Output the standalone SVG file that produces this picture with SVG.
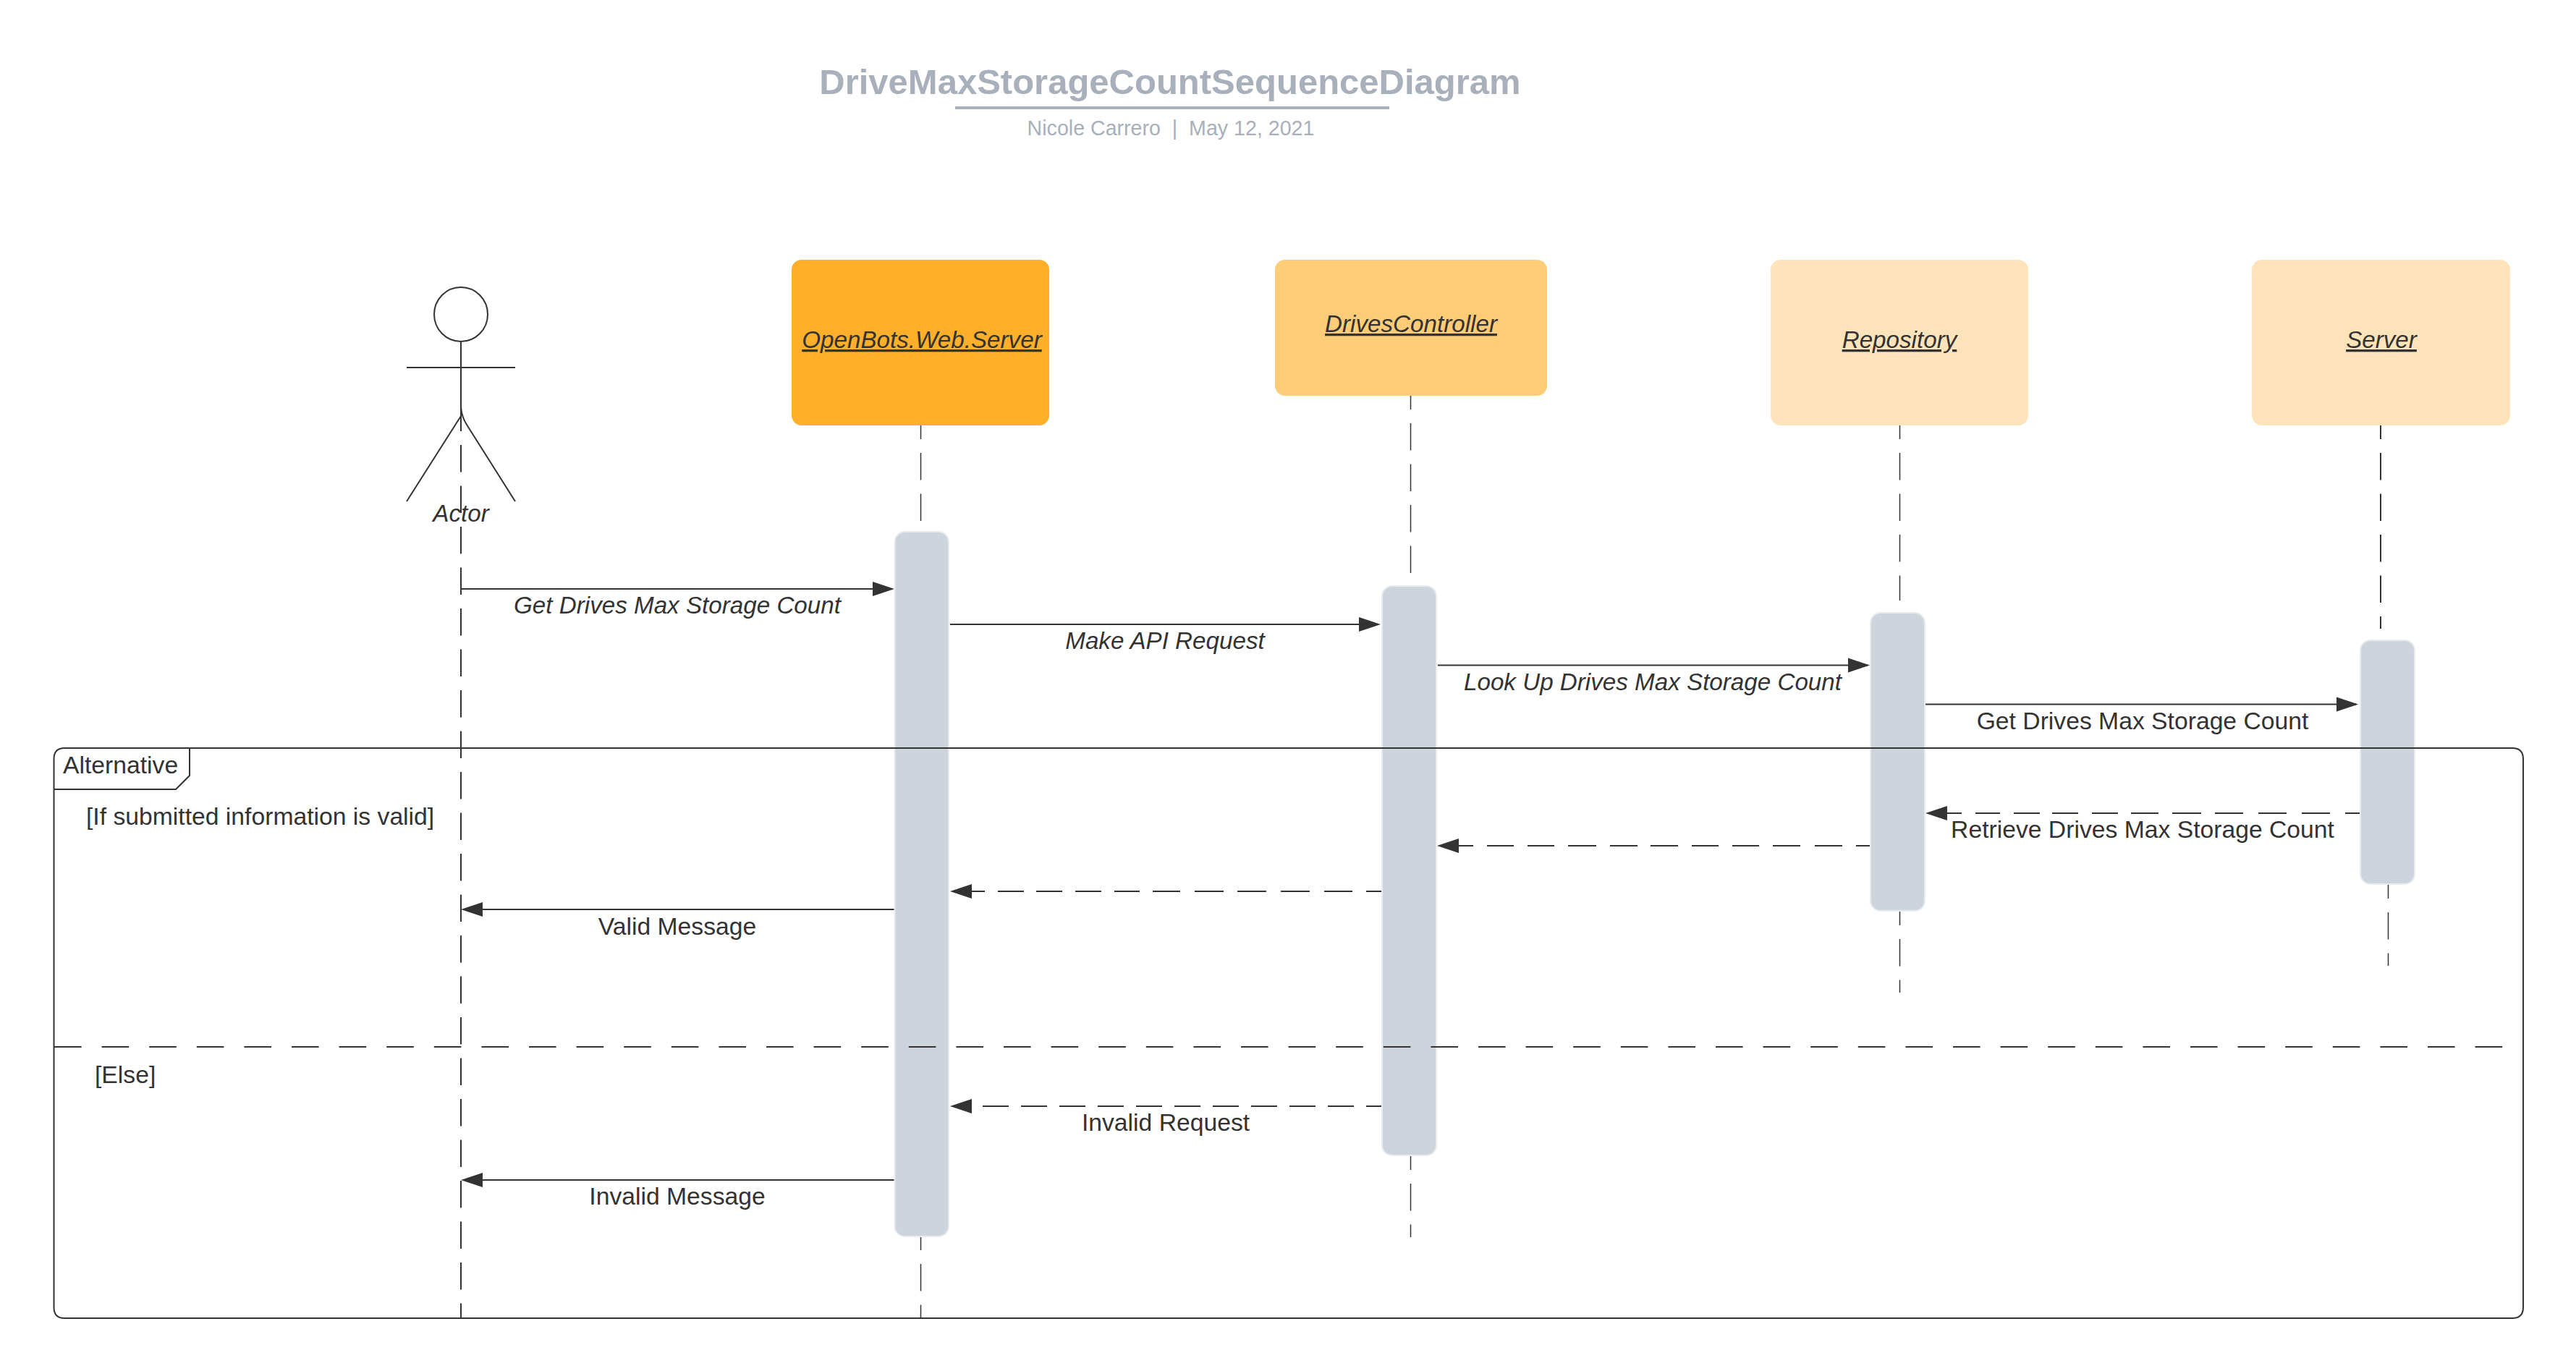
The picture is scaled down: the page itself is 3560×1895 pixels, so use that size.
<svg xmlns="http://www.w3.org/2000/svg" width="3560" height="1895" viewBox="0 0 3560 1895">
<style>
text{font-family:"Liberation Sans",Arial,sans-serif;font-size:33.700px;fill:#333}
.m{text-anchor:middle}
.i{font-style:italic;font-size:33.200px}
.u{text-decoration:underline}
.life{stroke:#333;stroke-width:1.500;fill:none;stroke-dasharray:37.500 19;stroke-dashoffset:18.500}
.thick{stroke-width:2;stroke-dashoffset:0}
.msg{stroke:#333;stroke-width:2;fill:none;marker-end:url(#head)}
.act{fill:#ced4db;stroke:#e8ebef;stroke-width:2}
.fig{stroke:#333;stroke-width:2;fill:none}
.box{stroke:none}
</style>
<defs>
<marker id="head" markerUnits="userSpaceOnUse" markerWidth="31" markerHeight="22" refX="27" refY="11" orient="auto"><path d="M0 1L30 11L0 21Z" fill="#333"/></marker>
</defs>
<rect width="3560" height="1895" fill="#fff"/>
<g id="title">
<text class="m" x="1617" y="130" style="font-size:49px;font-weight:bold;fill:#a8b0bb">DriveMaxStorageCountSequenceDiagram</text>
<rect x="1320" y="147" width="600" height="4" fill="#a8b0bb"/>
<text class="m" x="1618" y="187" style="font-size:28.600px;fill:#a8b0bb;white-space:pre">Nicole Carrero  |  May 12, 2021</text>
</g>
<g id="connectors">
<path class="life thick" d="M637 558.500V1822"/>
<path class="life" d="M1272.500 588V720"/>
<path class="life" d="M1272.500 1709V1822"/>
<path class="life" d="M1949.500 547V810"/>
<path class="life" d="M1949.500 1598V1710"/>
<path class="life" d="M2625.500 588V830"/>
<path class="life" d="M2625.500 1260V1372"/>
<path class="life thick" style="stroke-dashoffset:18.500" d="M3290 588V869"/>
<path class="life" d="M3300.500 1223V1335"/>
<path class="msg" d="M637 814H1233"/>
<path class="msg" d="M1313 863H1905"/>
<path class="msg" d="M1987 919.500H2581"/>
<path class="msg" d="M2660 973.500H3256"/>
<path class="msg" stroke-dasharray="20 21 39 21 39 21 39 19 40 19 38 18 36 19 36 17 36 19 34 19 100" d="M3261 1124H2664"/>
<path class="msg" stroke-dasharray="19 19 38 20 38 19 37 19 37 19 38 18 38 19 39 19 37 19 37 19 100" d="M2584 1169H1989"/>
<path class="msg" stroke-dasharray="22 19 39 20 40 20 40 19 40 20 38 18 35 18 36 18 36 17 36 18 100" d="M1910 1232H1316"/>
<path class="msg" d="M1237 1257H640"/>
<path class="msg" stroke-dasharray="36 17" stroke-dashoffset="14" d="M1910 1529H1316"/>
<path class="msg" d="M1237 1631H640"/>
</g>
<g id="activation-repository"><rect class="act" x="2585" y="847" width="75" height="412" rx="14"/></g>
<g id="activation-web"><rect class="act" x="1236.500" y="735" width="74.500" height="974" rx="14"/></g>
<g id="activation-controller"><rect class="act" x="1910" y="810" width="75" height="787" rx="14"/></g>
<g id="activation-server"><rect class="act" x="3262" y="885" width="75" height="337" rx="14"/></g>
<g id="frame">
<path d="M89 1034H3472Q3487 1034 3487 1049V1807Q3487 1822 3472 1822H89Q74.500 1822 74.500 1807V1049Q74.500 1034 89 1034Z" fill="none" stroke="#333" stroke-width="2"/>
<path d="M74.500 1091H243L262 1072V1034" fill="none" stroke="#333" stroke-width="2"/>
<path d="M75 1447H3462" fill="none" stroke="#333" stroke-width="2" stroke-dasharray="37.600 28"/>
<text x="87" y="1069">Alternative</text>
<text x="119" y="1140">[If submitted information is valid]</text>
<text x="131" y="1497">[Else]</text>
</g>
<g id="actor">
<ellipse class="fig" cx="637" cy="434.500" rx="37" ry="37.500"/>
<path class="fig" d="M637 472V563M562 508H712M637 575L562 693M637 563Q638 576 645 587L712 693"/>
<text class="m i" x="637" y="721">Actor</text>
</g>
<g id="node-web"><rect class="box" x="1094" y="359" width="356" height="229" rx="14" fill="#ffaf29"/><text class="m i u" x="1274" y="481">OpenBots.Web.Server</text></g>
<g id="node-controller"><rect class="box" x="1762" y="359" width="376" height="188" rx="14" fill="#ffcc78"/><text class="m i u" x="1950" y="459">DrivesController</text></g>
<g id="node-repository"><rect class="box" x="2447" y="359" width="356" height="229" rx="14" fill="#ffe4bb"/><text class="m i u" x="2625" y="481">Repository</text></g>
<g id="node-server"><rect class="box" x="3112" y="359" width="357" height="229" rx="14" fill="#ffe4bb"/><text class="m i u" x="3291" y="481">Server</text></g>
<g id="labels">
<text class="m i" x="936" y="848">Get Drives Max Storage Count</text>
<text class="m i" x="1610" y="897">Make API Request</text>
<text class="m i" x="2284" y="954">Look Up Drives Max Storage Count</text>
<text class="m" x="2961" y="1008">Get Drives Max Storage Count</text>
<text class="m" x="2961" y="1158">Retrieve Drives Max Storage Count</text>
<text class="m" x="936" y="1292">Valid Message</text>
<text class="m" x="1611" y="1563">Invalid Request</text>
<text class="m" x="936" y="1665">Invalid Message</text>
</g>
</svg>
